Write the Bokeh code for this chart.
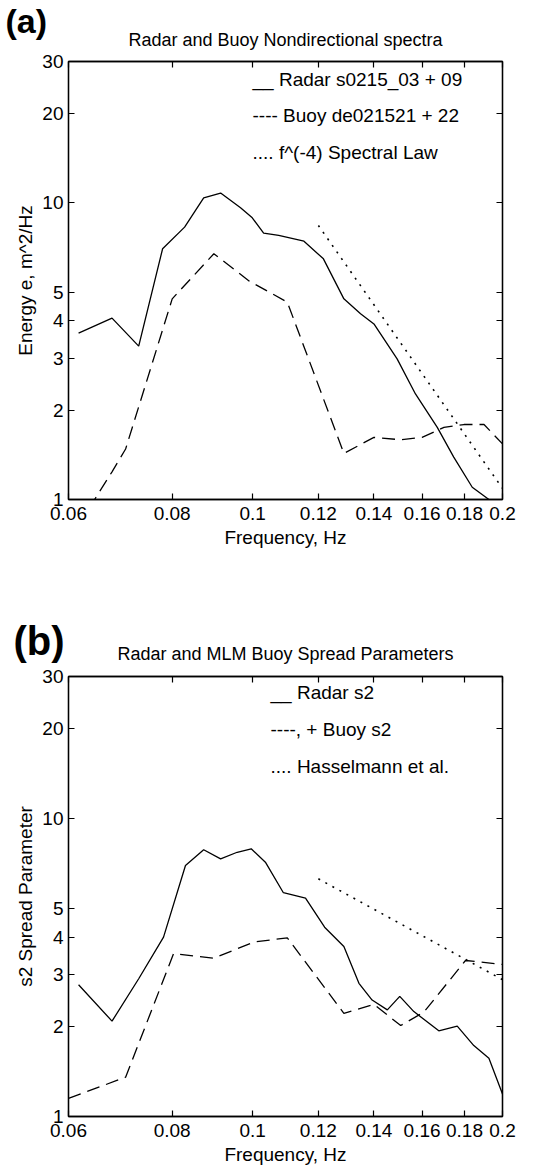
from bokeh.plotting import figure
from bokeh.models import (LogAxis, FixedTicker, CustomJSTickFormatter, Label, Range1d,
                          Title, CustomLabelingPolicy)
from bokeh.layouts import column
from bokeh.embed import file_html
from bokeh.resources import INLINE

FONT = "Liberation Sans"

# ---------------- data ----------------
x_ticks = [0.06, 0.08, 0.1, 0.12, 0.14, 0.16, 0.18, 0.2]
y_ticks = [1, 2, 3, 4, 5, 10, 20, 30]

# Panel (a): nondirectional spectra
freq_radar_a = [0.0617, 0.0677, 0.0729, 0.0779, 0.0828, 0.0873, 0.0915, 0.0967, 0.0999,
                0.1031, 0.1075, 0.1153, 0.1217, 0.1288, 0.1349, 0.1400, 0.1493, 0.1571,
                0.1669, 0.1747, 0.1839, 0.1926]
radar_a = [3.64, 4.09, 3.29, 7.01, 8.29, 10.4, 10.8, 9.63, 8.91,
           7.91, 7.77, 7.43, 6.48, 4.75, 4.23, 3.91, 2.98, 2.27,
           1.75, 1.39, 1.10, 1.00]
freq_buoy_a = [0.0617, 0.0677, 0.0703, 0.0800, 0.0898, 0.0991, 0.1101, 0.1288, 0.1400,
               0.1508, 0.1600, 0.1700, 0.1797, 0.1900, 0.2000]
buoy_a = [0.82, 1.24, 1.48, 4.75, 6.74, 5.45, 4.63, 1.43, 1.62,
          1.59, 1.62, 1.75, 1.79, 1.79, 1.54]
freq_law_a = [0.12, 0.2]
law_a = [8.4, 1.09]

# Panel (b): spread parameters
freq_radar_b = [0.0617, 0.0677, 0.0729, 0.0781, 0.0830, 0.0873, 0.0915, 0.0958, 0.0996,
                0.1036, 0.1089, 0.1158, 0.1221, 0.1288, 0.1343, 0.1393, 0.1453, 0.1504,
                0.1564, 0.1676, 0.1764, 0.1847, 0.1926, 0.2000]
radar_b = [2.77, 2.09, 2.90, 4.00, 6.96, 7.86, 7.33, 7.71, 7.92,
           7.14, 5.64, 5.41, 4.32, 3.72, 2.80, 2.46, 2.28, 2.53,
           2.25, 1.94, 2.01, 1.73, 1.57, 1.19]
freq_buoy_b = [0.0600, 0.0703, 0.0803, 0.0898, 0.1003, 0.1101, 0.1288, 0.1400, 0.1508,
               0.1608, 0.1805, 0.2000]
buoy_b = [1.15, 1.355, 3.52, 3.40, 3.85, 3.98, 2.22, 2.38, 2.02,
          2.24, 3.34, 3.24]
freq_hass_b = [0.12, 0.2]
hass_b = [6.28, 2.88]

title_a = "Radar and Buoy Nondirectional spectra"
title_b = "Radar and MLM Buoy Spread Parameters"
legend_a = ["__ Radar s0215_03 + 09", "---- Buoy de021521 + 22", ".... f^(-4) Spectral Law"]
legend_b = ["__ Radar s2", "----, + Buoy s2", ".... Hasselmann et al."]


def style_axis(ax, ticks, show_labels):
    ax.ticker = FixedTicker(ticks=ticks)
    ax.formatter = CustomJSTickFormatter(code="return String(tick)")
    ax.major_tick_in = 6
    ax.major_tick_out = 0
    ax.minor_tick_in = 0
    ax.minor_tick_out = 0
    ax.axis_line_color = "black"
    ax.axis_line_width = 1.3
    ax.major_tick_line_color = "black"
    ax.major_tick_line_width = 1.2
    ax.major_label_text_font = FONT
    ax.major_label_text_color = "black"
    ax.major_label_text_font_size = "19px"
    if not show_labels:
        ax.major_label_policy = CustomLabelingPolicy(code="return []")
        ax.major_label_standoff = 0
        ax.major_label_text_font_size = "0px"
    ax.axis_label_text_font = FONT
    ax.axis_label_text_font_style = "normal"
    ax.axis_label_text_font_size = "19px"
    ax.axis_label_text_color = "black"


def make_panel(height, top, bottom, ylabel, title, title_standoff,
               tag, tag_offset, tag_size, tag_standoff,
               legend, leg_x, leg_y, series):
    p = figure(width=536, height=height, x_axis_type="log", y_axis_type="log",
               x_range=Range1d(0.06, 0.2), y_range=Range1d(1, 30), title=None,
               output_backend="svg", toolbar_location=None,
               min_border_left=68, min_border_right=34,
               min_border_top=top, min_border_bottom=bottom)
    p.grid.visible = False
    p.outline_line_color = "black"
    p.outline_line_width = 1.3
    p.background_fill_color = "white"
    p.border_fill_color = "white"

    style_axis(p.xaxis[0], x_ticks, True)
    style_axis(p.yaxis[0], y_ticks, True)
    p.xaxis[0].axis_label = "Frequency, Hz"
    p.xaxis[0].major_label_standoff = 7
    p.xaxis[0].axis_label_standoff = 4
    p.yaxis[0].axis_label = ylabel
    p.yaxis[0].major_label_standoff = 5
    p.yaxis[0].axis_label_standoff = 3

    ra = LogAxis()
    style_axis(ra, y_ticks, False)
    p.add_layout(ra, "right")

    # top axis: inward ticks, its label carries the panel title
    ta = LogAxis()
    style_axis(ta, x_ticks, False)
    ta.axis_label = title
    ta.axis_label_text_font_size = "18px"
    ta.axis_label_standoff = title_standoff
    p.add_layout(ta, "above")

    # bold panel tag, e.g. "(a)"
    p.add_layout(Title(text=tag, align="left", vertical_align="middle", offset=tag_offset,
                       text_font=FONT, text_font_size=tag_size, text_font_style="bold",
                       text_color="black", standoff=tag_standoff), "above")

    for fx, fy, dash, lw in series:
        p.line(fx, fy, line_color="black", line_width=lw, line_dash=dash)

    for txt, yy in zip(legend, leg_y):
        p.add_layout(Label(x=leg_x, y=yy, x_units="screen", y_units="screen", text=txt,
                           text_font=FONT, text_font_size="19px",
                           text_baseline="middle", text_align="left", text_color="black"))
    return p


pa = make_panel(583, 61, 84, "Energy e, m^2/Hz", title_a, 12,
                "(a)", -63, "34px", -28,
                legend_a, 184, [420, 384, 347],
                [(freq_radar_a, radar_a, "solid", 1.3),
                 (freq_buoy_a, buoy_a, "13 7", 1.3),
                 (freq_law_a, law_a, "2 6", 1.6)])

pb = make_panel(584, 93, 51, "s2 Spread Parameter", title_b, 13,
                "(b)", -55, "40px", -47,
                legend_b, 202, [424, 387, 350],
                [(freq_radar_b, radar_b, "solid", 1.3),
                 (freq_buoy_b, buoy_b, "13 7", 1.3),
                 (freq_hass_b, hass_b, "2 6", 1.6)])

layout = column(pa, pb, spacing=0)
open("out.html", "w").write(file_html(layout, INLINE))
